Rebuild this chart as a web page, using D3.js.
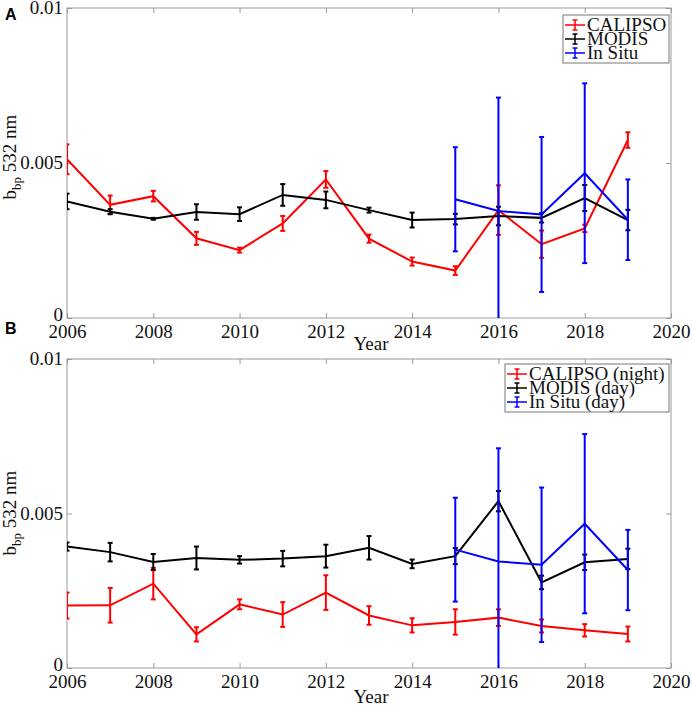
<!DOCTYPE html>
<html>
<head>
<meta charset="utf-8">
<script src="https://cdn.jsdelivr.net/npm/d3@7"></script>
<style>
  body { margin: 0; background: #fff; }
</style>
</head>
<body>
<div id="viz"></div>
<script>

var years = [2006, 2007, 2008, 2009, 2010, 2011, 2012, 2013, 2014, 2015, 2016, 2017, 2018, 2019];
var inSituYears = [2015, 2016, 2017, 2018, 2019];
var xTicks = [2006, 2008, 2010, 2012, 2014, 2016, 2018, 2020];
var yTicks = [0, 0.005, 0.01];

// panel A
var calipsoA = [0.00512, 0.00365, 0.00393, 0.00257, 0.00219, 0.00305, 0.00447, 0.00256, 0.00182, 0.00153, 0.00348, 0.00238, 0.00289, 0.00574];
var calipsoAErr = [0.00048, 0.0003, 0.00017, 0.00021, 0.00008, 0.00024, 0.00027, 0.00013, 0.00013, 0.00014, 0.0008, 0.00044, 0.00012, 0.00025];
var modisA = [0.00376, 0.00343, 0.0032, 0.00342, 0.00335, 0.00397, 0.00381, 0.00348, 0.00316, 0.00319, 0.00329, 0.00323, 0.00387, 0.00316];
var modisAErr = [0.00025, 0.00008, 0.00003, 0.00025, 0.00022, 0.00035, 0.00027, 0.00008, 0.00024, 0.00017, 0.0003, 0.00015, 0.00042, 0.00033];

// panel B
var calipsoB = [0.00202, 0.00203, 0.00273, 0.00109, 0.00206, 0.00173, 0.00244, 0.0017, 0.00138, 0.00149, 0.00163, 0.00136, 0.00122, 0.0011];
var calipsoBErr = [0.00042, 0.00056, 0.00051, 0.00023, 0.00016, 0.0004, 0.00056, 0.0003, 0.00023, 0.00041, 0.00027, 0.00021, 0.0002, 0.00024];
var modisB = [0.00393, 0.00375, 0.00343, 0.00356, 0.0035, 0.00354, 0.00362, 0.00389, 0.00337, 0.00362, 0.0054, 0.00277, 0.00342, 0.00353];
var modisBErr = [0.00013, 0.0003, 0.00026, 0.00037, 0.00012, 0.00025, 0.00037, 0.00038, 0.00014, 0.00026, 0.00033, 0.00022, 0.00025, 0.00033];

// in situ, same in both panels
var inSitu = [0.00383, 0.00345, 0.00334, 0.00467, 0.00317];
var inSituErr = [0.00168, 0.00366, 0.0025, 0.0029, 0.0013];

var labelsA = ["CALIPSO", "MODIS", "In Situ"];
var labelsB = ["CALIPSO (night)", "MODIS (day)", "In Situ (day)"];
var colors = ["#ff0000", "#000000", "#0000ff"];

var SERIF = "'Liberation Serif', 'Times New Roman', serif";
var width = 692, height = 707;
var left = 67, right = 671;

var svg = d3.select("#viz")
  .append("svg")
  .attr("width", width)
  .attr("height", height);

var x = d3.scaleLinear().domain([2006, 2020]).range([left, right]);

function zip(xs, vs, es) {
  return xs.map(function (d, i) { return { x: d, v: vs[i], e: es[i] }; });
}

function serifText(sel, size) {
  return sel.style("font-family", SERIF).style("font-size", size + "px").attr("fill", "#111");
}

function drawPanel(p) {
  var y = d3.scaleLinear().domain([0, 0.01]).range([p.bottom, p.top]);
  var g = svg.append("g");

  var clipId = "clip" + p.letter;
  g.append("clipPath").attr("id", clipId)
    .append("rect")
    .attr("x", left).attr("y", p.top)
    .attr("width", right - left).attr("height", p.bottom - p.top);

  // box and ticks (MATLAB style, inward)
  g.append("rect")
    .attr("x", left).attr("y", p.top)
    .attr("width", right - left).attr("height", p.bottom - p.top)
    .attr("fill", "none").attr("stroke", "#9a9a9a").attr("stroke-width", 1);

  var xb = g.append("g").attr("transform", "translate(0," + p.bottom + ")")
    .call(d3.axisBottom(x).tickValues(xTicks).tickSize(-5).tickPadding(8).tickFormat(d3.format("d")));
  var xt = g.append("g").attr("transform", "translate(0," + p.top + ")")
    .call(d3.axisTop(x).tickValues(xTicks).tickSize(-5).tickFormat(""));
  var yl = g.append("g").attr("transform", "translate(" + left + ",0)")
    .call(d3.axisLeft(y).tickValues(yTicks).tickSize(-5).tickPadding(4).tickFormat(function (d) { return d === 0 ? "0" : String(d); }));
  var yr = g.append("g").attr("transform", "translate(" + right + ",0)")
    .call(d3.axisRight(y).tickValues(yTicks).tickSize(-5).tickFormat(""));

  [xb, xt, yl, yr].forEach(function (a) {
    a.select(".domain").remove();
    a.selectAll(".tick line").attr("stroke", "#9a9a9a");
    serifText(a.selectAll("text"), 19);
  });
  xb.selectAll("text").attr("dy", "0.62em");
  yl.selectAll("text").attr("dy", function (d) { return d === 0 ? "0.12em" : "0.3em"; });

  // axis labels
  serifText(g.append("text"), 19)
    .attr("x", (left + right) / 2 + 2)
    .attr("y", p.yearY)
    .attr("text-anchor", "middle")
    .text("Year");

  var ylab = serifText(g.append("text"), 19)
    .attr("transform", "translate(16," + p.labelY + ") rotate(-90)")
    .attr("text-anchor", "middle");
  ylab.append("tspan").text("b");
  ylab.append("tspan").style("font-size", "13px").attr("dy", 5).text("bp");
  ylab.append("tspan").attr("dy", -5).text(" 532 nm");

  svg.append("text")
    .attr("x", 5).attr("y", p.letterY)
    .style("font-family", "'Liberation Sans', Arial, sans-serif")
    .style("font-weight", "bold")
    .style("font-size", "16px")
    .text(p.letter);

  // series
  var series = [zip(years, p.calipso, p.calipsoErr), zip(years, p.modis, p.modisErr), zip(inSituYears, inSitu, inSituErr)];
  var line = d3.line().x(function (d) { return x(d.x); }).y(function (d) { return y(d.v); });
  var plot = g.append("g").attr("clip-path", "url(#" + clipId + ")");

  series.forEach(function (s, i) {
    var sg = plot.append("g").attr("stroke", colors[i]).attr("stroke-width", 2).attr("fill", "none");
    sg.append("path").attr("d", line(s));
    var eb = sg.selectAll(".eb").data(s).enter().append("g");
    eb.append("line")
      .attr("x1", function (d) { return x(d.x); }).attr("x2", function (d) { return x(d.x); })
      .attr("y1", function (d) { return y(d.v - d.e); }).attr("y2", function (d) { return y(d.v + d.e); });
    eb.append("line")
      .attr("x1", function (d) { return x(d.x) - 2.5; }).attr("x2", function (d) { return x(d.x) + 2.5; })
      .attr("y1", function (d) { return y(d.v - d.e); }).attr("y2", function (d) { return y(d.v - d.e); });
    eb.append("line")
      .attr("x1", function (d) { return x(d.x) - 2.5; }).attr("x2", function (d) { return x(d.x) + 2.5; })
      .attr("y1", function (d) { return y(d.v + d.e); }).attr("y2", function (d) { return y(d.v + d.e); });
  });

  // legend
  var lg = g.append("g");
  lg.append("rect")
    .attr("x", p.legX).attr("y", p.legY)
    .attr("width", right - 2 - p.legX).attr("height", 48)
    .attr("fill", "#fff").attr("stroke", "#777").attr("stroke-width", 1);
  p.labels.forEach(function (t, i) {
    var cy = p.legY + 10 + i * 14;
    var cx = p.legX + 12;
    var item = lg.append("g").attr("stroke", colors[i]).attr("stroke-width", 1.5);
    item.append("line").attr("x1", p.legX + 2).attr("x2", p.legX + 22).attr("y1", cy).attr("y2", cy);
    item.append("line").attr("x1", cx).attr("x2", cx).attr("y1", cy - 5).attr("y2", cy + 5);
    item.append("line").attr("x1", cx - 2.5).attr("x2", cx + 2.5).attr("y1", cy - 5).attr("y2", cy - 5);
    item.append("line").attr("x1", cx - 2.5).attr("x2", cx + 2.5).attr("y1", cy + 5).attr("y2", cy + 5);
    serifText(lg.append("text"), 19)
      .attr("x", p.legX + 24).attr("y", cy + 6)
      .text(t);
  });
}

drawPanel({ letter: "A", top: 8, bottom: 318, letterY: 20, yearY: 350, labelY: 157,
  calipso: calipsoA, calipsoErr: calipsoAErr, modis: modisA, modisErr: modisAErr,
  labels: labelsA, legX: 563, legY: 15 });

drawPanel({ letter: "B", top: 359, bottom: 668, letterY: 334, yearY: 703, labelY: 513,
  calipso: calipsoB, calipsoErr: calipsoBErr, modis: modisB, modisErr: modisBErr,
  labels: labelsB, legX: 505, legY: 364 });

</script>
</body>
</html>
